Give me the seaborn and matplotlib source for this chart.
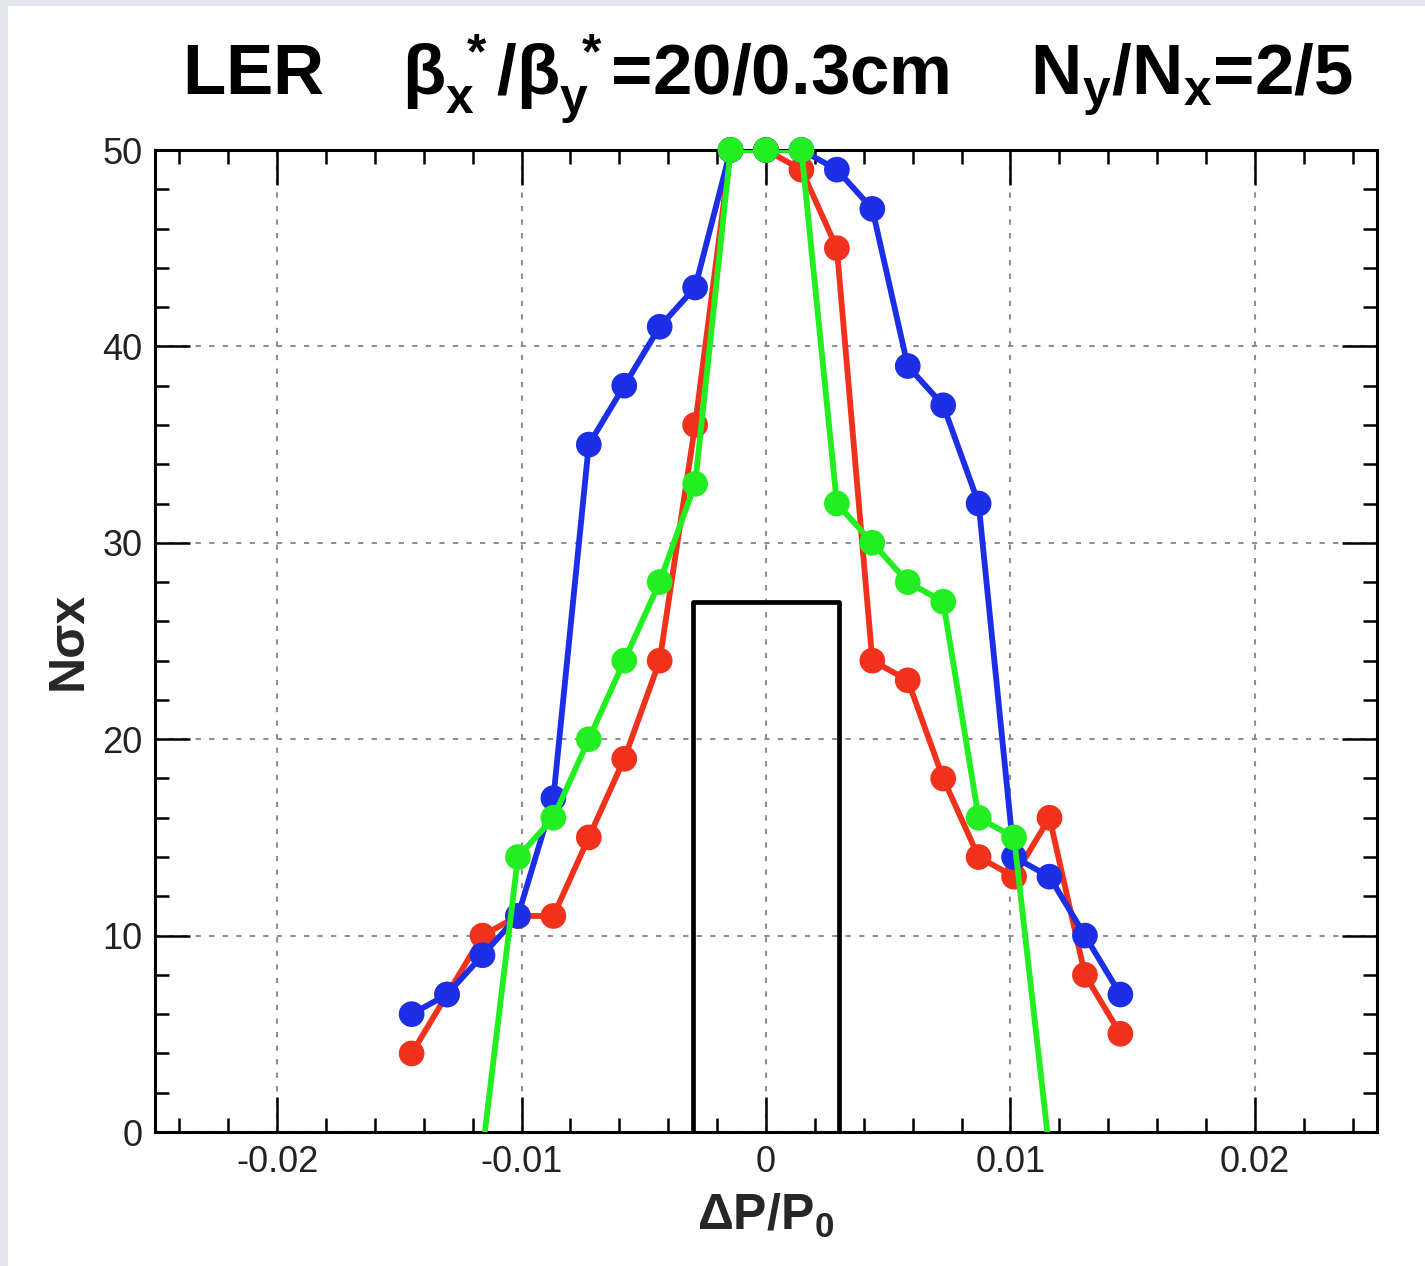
import numpy as np
import pandas as pd
import matplotlib
matplotlib.use("Agg")
import matplotlib.pyplot as plt
import seaborn as sns
from matplotlib.patches import Rectangle
from matplotlib.ticker import MultipleLocator

# ---- data ----
step_index = list(range(-10, 11))
dp_step = 0.00145
x_vals = [i * dp_step for i in step_index]

blue_vals = [6, 7, 9, 11, 17, 35, 38, 41, 43, 50, 50, 50, 49, 47, 39, 37, 32, 14, 13, 10, 7]
red_vals = [4, 7, 10, 11, 11, 15, 19, 24, 36, 50, 50, 49, 45, 24, 23, 18, 14, 13, 16, 8, 5]
green_idx = list(range(-8, 9))
green_x = [i * dp_step for i in green_idx]
green_vals = [-1, 14, 16, 20, 24, 28, 33, 50, 50, 50, 32, 30, 28, 27, 16, 15, -1]

rect_x = [-0.003, -0.003, 0.003, 0.003]
rect_y = [0, 27, 27, 0]

x_ticks = [-0.02, -0.01, 0, 0.01, 0.02]
x_tick_labels = ["-0.02", "-0.01", "0", "0.01", "0.02"]
y_ticks = [0, 10, 20, 30, 40, 50]

BLUE = "#1c2ee6"
RED = "#f0321c"
GREEN = "#22ee22"

sns.set_theme(style="white")
plt.rcParams["font.family"] = ["Liberation Sans", "DejaVu Sans"]
plt.rcParams["mathtext.fontset"] = "custom"
plt.rcParams["mathtext.rm"] = "Liberation Sans:bold"
plt.rcParams["mathtext.it"] = "Liberation Sans:bold"
plt.rcParams["mathtext.bf"] = "Liberation Sans:bold"
plt.rcParams["mathtext.sf"] = "Liberation Sans:bold"

fig = plt.figure(figsize=(14.25, 12.66), dpi=100)
fig.patch.set_facecolor("#e3e7ed")
bg = Rectangle((8 / 1425, 0), 1, 1 - 6 / 1266, transform=fig.transFigure,
               facecolor="white", edgecolor="none", zorder=-10)
fig.patches.append(bg)

ax = fig.add_axes([155 / 1425, 1 - 1132 / 1266, (1377 - 155) / 1425, (1132 - 150) / 1266])
ax.set_zorder(1)
ax.set_facecolor("white")

# black rectangle (acceptance window)
sns.lineplot(x=rect_x, y=rect_y, ax=ax, color="black", linewidth=3.4, sort=False,
             estimator=None, zorder=2)

lw = 4.2
ms = 18.5
series = [
    (x_vals, red_vals, RED, 3),
    (x_vals, blue_vals, BLUE, 4),
    (green_x, green_vals, GREEN, 5),
]
for xs, ys, col, z in series:
    df = pd.DataFrame({"x": xs, "y": ys})
    sns.lineplot(data=df, x="x", y="y", ax=ax, color=col, linewidth=lw, sort=False,
                 estimator=None, zorder=z)
    vis = df[df["y"] >= 0]
    sns.scatterplot(data=vis, x="x", y="y", ax=ax, color=col, s=ms ** 2,
                    edgecolor="none", linewidth=0, zorder=z + 0.5, clip_on=False)

ax.set_xlim(-0.025, 0.025)
ax.set_ylim(0, 50)
ax.set_xticks(x_ticks)
ax.set_xticklabels(x_tick_labels)
ax.set_yticks(y_ticks)
ax.xaxis.set_minor_locator(MultipleLocator(0.002))
ax.yaxis.set_minor_locator(MultipleLocator(2))

ax.grid(True, which="major", color="#8f8f8f", linestyle=(0, (2.5, 4)), linewidth=1.5)
ax.set_axisbelow(True)

for sp in ax.spines.values():
    sp.set_color("black")
    sp.set_linewidth(2.2)
    sp.set_visible(True)

ax.tick_params(which="both", direction="in", top=True, right=True, bottom=True, left=True,
               color="black", width=1.8)
ax.tick_params(which="major", length=25, labelsize=26, labelcolor="#222222", pad=9)
ax.tick_params(which="minor", length=10)

ax.set_xlabel(r"$\Delta$P/P$_0$", fontsize=36, fontweight="bold", labelpad=9)
ax.set_ylabel("Nσx", fontsize=36, fontweight="bold", labelpad=8)

fig.text(767 / 1425, 1 - 95 / 1266,
         r"LER    $\beta_x^{\,*}/\beta_y^{\,*}$=20/0.3cm    N$_y$/N$_x$=2/5",
         ha="center", va="baseline", fontsize=51, fontweight="bold", color="black")

fig.savefig("out.png", dpi=100, facecolor=fig.get_facecolor())
